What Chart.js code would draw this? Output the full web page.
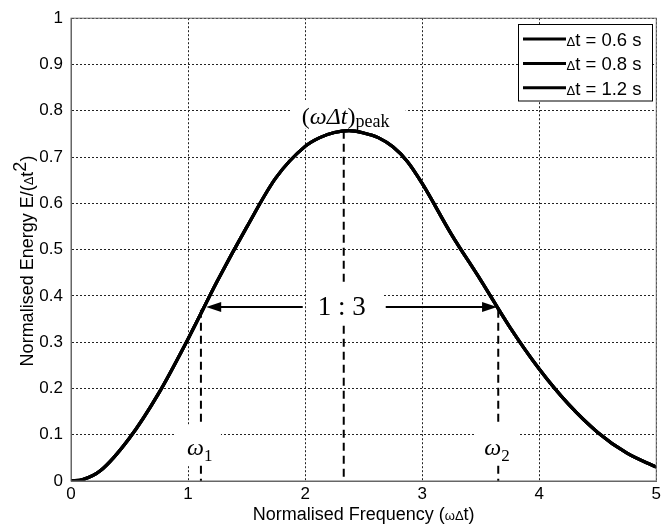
<!DOCTYPE html>
<html>
<head>
<meta charset="utf-8">
<script src="https://cdn.jsdelivr.net/npm/chart.js@4.4.1/dist/chart.umd.min.js"></script>
<style>
  html, body { margin: 0; padding: 0; background: #fff; }
  #wrap { width: 664px; height: 528px; }
</style>
</head>
<body>
<div id="wrap"><canvas id="chart" width="664" height="528"></canvas></div>
<script>
// normalised frequency (ωΔt) and normalised energy E/(Δt²)
const freq = [0, 0.1, 0.25, 0.5, 0.75, 1, 1.25, 1.5, 1.75, 2, 2.125, 2.25, 2.375, 2.5, 2.625, 2.75, 2.875, 3, 3.25, 3.5, 3.75, 4, 4.25, 4.5, 4.75, 5];
const energy = [0, 0.003, 0.022, 0.093, 0.19, 0.307, 0.432, 0.548, 0.655, 0.723, 0.742, 0.753, 0.757, 0.752, 0.742, 0.722, 0.69, 0.643, 0.533, 0.434, 0.332, 0.242, 0.166, 0.105, 0.06, 0.03];
const pulseWidths = [0.6, 0.8, 1.2];

const xTicks = [0, 1, 2, 3, 4, 5];
const yTicks = [0, 0.1, 0.2, 0.3, 0.4, 0.5, 0.6, 0.7, 0.8, 0.9, 1];

// marker positions
const peakFreq = 2.33;
const peakEnergy = 0.757;
const omega1 = 1.11;
const omega2 = 3.65;
const bandLevel = 0.37;
const arrowLevel = 0.376;

const SANS = '"Liberation Sans", Arial, sans-serif';
const SERIF = '"Liberation Serif", "Times New Roman", serif';

const points = freq.map((x, i) => ({ x, y: energy[i] }));

function whiteBox(ctx, x0, y0, x1, y1) {
  ctx.fillStyle = '#fff';
  ctx.fillRect(x0, y0, x1 - x0, y1 - y0);
}

function arrow(ctx, fromX, toX, y) {
  const dir = Math.sign(toX - fromX);
  ctx.strokeStyle = '#000';
  ctx.fillStyle = '#000';
  ctx.lineWidth = 2;
  ctx.setLineDash([]);
  ctx.beginPath();
  ctx.moveTo(fromX, y);
  ctx.lineTo(toX - dir * 12, y);
  ctx.stroke();
  ctx.beginPath();
  ctx.moveTo(toX, y);
  ctx.lineTo(toX - dir * 15, y - 5);
  ctx.lineTo(toX - dir * 15, y + 5);
  ctx.closePath();
  ctx.fill();
}

// draws a run of [text, font, dy] pieces left to right
function drawPieces(ctx, x, y, pieces) {
  for (const [txt, font, dy] of pieces) {
    ctx.font = font;
    ctx.fillText(txt, x, y + dy);
    x += ctx.measureText(txt).width;
  }
  return x;
}

function piecesWidth(ctx, pieces) {
  let w = 0;
  for (const [txt, font] of pieces) {
    ctx.font = font;
    w += ctx.measureText(txt).width;
  }
  return w;
}

const annotations = {
  id: 'annotations',
  beforeDatasetsDraw(chart) {
    const { ctx, scales: { x, y } } = chart;
    ctx.save();

    // dashed markers
    ctx.strokeStyle = '#000';
    ctx.lineWidth = 2;
    ctx.setLineDash([8, 5]);
    const vline = (fx, top) => {
      ctx.beginPath();
      ctx.moveTo(x.getPixelForValue(fx), y.getPixelForValue(top));
      ctx.lineTo(x.getPixelForValue(fx), y.getPixelForValue(0));
      ctx.stroke();
    };
    vline(peakFreq, peakEnergy);
    vline(omega1, bandLevel);
    vline(omega2, bandLevel);
    ctx.setLineDash([]);

    // label backgrounds
    const px = x.getPixelForValue(peakFreq);
    whiteBox(ctx, px - 52, 100, px + 62, 128);
    whiteBox(ctx, px - 36, 284, px + 39, 322);
    const w1 = x.getPixelForValue(omega1);
    const w2 = x.getPixelForValue(omega2);
    whiteBox(ctx, w1 - 25, 426, w1 + 20, 465);
    whiteBox(ctx, w2 - 24, 426, w2 + 20, 465);

    ctx.fillStyle = '#000';
    ctx.textBaseline = 'alphabetic';
    ctx.textAlign = 'left';

    // (ωΔt)_peak
    drawPieces(ctx, px - 42, 124, [
      ['(', `24px ${SERIF}`, 0],
      ['ωΔt', `italic 24px ${SERIF}`, 0],
      [')', `24px ${SERIF}`, 0],
      ['peak', `18px ${SERIF}`, 3]
    ]);

    // ratio between the band edges
    ctx.font = `27px ${SERIF}`;
    ctx.textAlign = 'center';
    ctx.fillText('1 : 3', px - 2, 315);
    ctx.textAlign = 'left';

    const ay = y.getPixelForValue(arrowLevel);
    arrow(ctx, px - 41, x.getPixelForValue(1.155), ay);
    arrow(ctx, px + 42, x.getPixelForValue(3.64), ay);

    // band edge labels
    ctx.fillStyle = '#000';
    drawPieces(ctx, w1 - 14, 455, [
      ['ω', `italic 24px ${SERIF}`, 0],
      ['1', `17px ${SERIF}`, 6]
    ]);
    drawPieces(ctx, w2 - 14, 455, [
      ['ω', `italic 24px ${SERIF}`, 0],
      ['2', `17px ${SERIF}`, 6]
    ]);
    ctx.restore();
  },
  afterDraw(chart) {
    const { ctx, chartArea: a } = chart;
    ctx.save();

    // box around the axes
    ctx.strokeStyle = '#666';
    ctx.lineWidth = 1;
    ctx.strokeRect(a.left, a.top, a.right - a.left, a.bottom - a.top);

    // legend
    const lx = 518.5, ly = 24.5, lw = 134, lh = 76.5;
    ctx.fillStyle = '#fff';
    ctx.fillRect(lx, ly, lw, lh);
    ctx.strokeStyle = '#000';
    ctx.strokeRect(lx, ly, lw, lh);
    chart.data.datasets.forEach((ds, i) => {
      const rowY = 39 + i * 24.4;
      ctx.strokeStyle = ds.borderColor;
      ctx.lineWidth = 3;
      ctx.beginPath();
      ctx.moveTo(523, rowY);
      ctx.lineTo(566, rowY);
      ctx.stroke();
      ctx.fillStyle = '#000';
      ctx.textBaseline = 'alphabetic';
      drawPieces(ctx, 566.5, rowY + 7, [
        ['Δ', `13px ${SANS}`, 0],
        [ds.label.slice(1), `18.5px ${SANS}`, 0]
      ]);
    });

    // axis titles
    ctx.fillStyle = '#000';
    const xt = [
      ['Normalised Frequency (', `18px ${SANS}`, 0],
      ['ωΔ', `13px ${SANS}`, 0],
      ['t)', `18px ${SANS}`, 0]
    ];
    const xw = piecesWidth(ctx, xt);
    drawPieces(ctx, (a.left + a.right) / 2 - xw / 2, 520, xt);

    const yt = [
      ['Normalised Energy E/(', `18px ${SANS}`, 0],
      ['Δ', `13px ${SANS}`, 0],
      ['t', `18px ${SANS}`, 0],
      ['2', `18px ${SANS}`, -7],
      [')', `18px ${SANS}`, 0]
    ];
    const yw = piecesWidth(ctx, yt);
    ctx.translate(33, 261);
    ctx.rotate(-Math.PI / 2);
    drawPieces(ctx, -yw / 2, 0, yt);
    ctx.restore();
  }
};

const gridOpts = { color: '#222', lineWidth: 1, drawTicks: false };
const tickLabel = v => String(+v.toFixed(2));

new Chart(document.getElementById('chart'), {
  type: 'line',
  data: {
    datasets: pulseWidths.map(dt => ({
      label: `Δt = ${dt} s`,
      data: points,
      borderColor: '#000',
      borderWidth: 3.2,
      pointRadius: 0,
      fill: false,
      cubicInterpolationMode: 'monotone'
    }))
  },
  options: {
    responsive: false,
    animation: false,
    layout: { padding: { top: 18, right: 6, left: 0, bottom: 0 } },
    plugins: {
      legend: { display: false },
      tooltip: { enabled: false }
    },
    scales: {
      x: {
        type: 'linear',
        min: 0,
        max: 5,
        afterBuildTicks: s => { s.ticks = xTicks.map(v => ({ value: v })); },
        afterFit: s => { s.height = 47; },
        grid: gridOpts,
        border: { display: true, color: '#666', width: 1, dash: [2, 2] },
        ticks: { color: '#000', padding: 3, font: { family: SANS, size: 17 }, callback: tickLabel }
      },
      y: {
        type: 'linear',
        min: 0,
        max: 1,
        afterBuildTicks: s => { s.ticks = yTicks.map(v => ({ value: v })); },
        afterFit: s => { s.width = 71; },
        grid: gridOpts,
        border: { display: true, color: '#666', width: 1, dash: [2, 2] },
        ticks: { color: '#000', padding: 8, font: { family: SANS, size: 17 }, callback: tickLabel }
      }
    }
  },
  plugins: [annotations]
});
</script>
</body>
</html>
